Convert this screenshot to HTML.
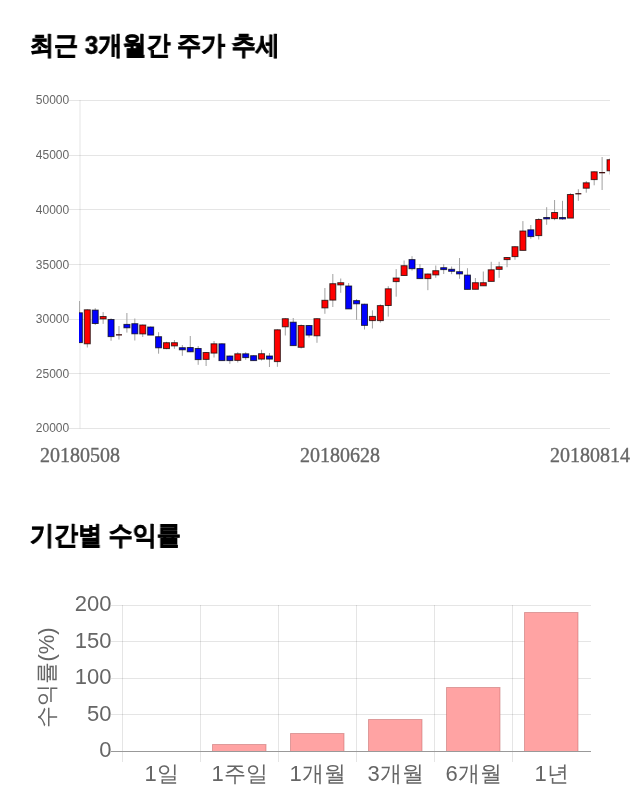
<!DOCTYPE html>
<html lang="ko">
<head>
<meta charset="utf-8">
<style>
html,body{margin:0;padding:0;background:#fff;width:640px;height:810px;overflow:hidden}
body{position:relative;font-family:"Liberation Sans",sans-serif}
.aa{will-change:transform}
.t{position:absolute;left:30.4px;font-size:26px;font-weight:bold;color:#000;white-space:nowrap;line-height:1;transform:scaleX(0.925);transform-origin:0 0;-webkit-text-stroke:0.6px #000}
svg{position:absolute;left:0;top:0}
.wk line{stroke:#a0a0a0;stroke-width:1}
rect.r{fill:#f00;stroke:rgba(0,0,0,0.7);stroke-width:1}
rect.b{fill:#00f;stroke:rgba(0,0,0,0.7);stroke-width:1}
rect.d{fill:#401010}
.yl{font-family:"Liberation Sans",sans-serif;font-size:12px;fill:#666}
.xl{font-family:"Liberation Serif",serif;font-size:20px;fill:#666;stroke:#666;stroke-width:0.35}
.bl{font-family:"Liberation Sans",sans-serif;font-size:22px;fill:#666}
.bar{fill:#ffa3a3;stroke:rgba(190,100,100,0.5);stroke-width:1}
</style>
</head>
<body>
<div class="t aa" id="t1" style="top:32px">최근 3개월간 주가 추세</div>
<svg class="aa" width="640" height="480" viewBox="0 0 640 480">
<g stroke="rgba(0,0,0,0.1)" stroke-width="1" shape-rendering="crispEdges">
<line x1="69" y1="100.5" x2="610" y2="100.5"/>
<line x1="69" y1="155.5" x2="610" y2="155.5"/>
<line x1="69" y1="209.5" x2="610" y2="209.5"/>
<line x1="69" y1="264.5" x2="610" y2="264.5"/>
<line x1="69" y1="319.5" x2="610" y2="319.5"/>
<line x1="69" y1="373.5" x2="610" y2="373.5"/>
<line x1="69" y1="428.5" x2="610" y2="428.5"/>
</g>
<line x1="80" y1="100" x2="80" y2="428.5" stroke="rgba(0,0,0,0.1)" stroke-width="1"/>
<g class="yl" text-anchor="end">
<text x="69.2" y="104">50000</text>
<text x="69.2" y="159">45000</text>
<text x="69.2" y="213.5">40000</text>
<text x="69.2" y="268.5">35000</text>
<text x="69.2" y="323">30000</text>
<text x="69.2" y="377.5">25000</text>
<text x="69.2" y="432">20000</text>
</g>
<defs><clipPath id="ca"><rect x="79" y="90" width="531" height="350"/></clipPath></defs>
<g clip-path="url(#ca)">
<g class="wk"><line x1="79.38" y1="301" x2="79.38" y2="342.5"/><line x1="87.30" y1="309.3" x2="87.30" y2="347.5"/><line x1="95.22" y1="308.2" x2="95.22" y2="325"/><line x1="103.14" y1="312.1" x2="103.14" y2="323.9"/><line x1="111.06" y1="318.3" x2="111.06" y2="340.8"/><line x1="118.98" y1="326" x2="118.98" y2="339.6"/><line x1="126.90" y1="313" x2="126.90" y2="332.6"/><line x1="134.82" y1="318.5" x2="134.82" y2="340.5"/><line x1="142.74" y1="324.5" x2="142.74" y2="337"/><line x1="150.66" y1="326.5" x2="150.66" y2="335"/><line x1="158.58" y1="332.2" x2="158.58" y2="353.7"/><line x1="166.50" y1="341.8" x2="166.50" y2="349.2"/><line x1="174.42" y1="340" x2="174.42" y2="348.8"/><line x1="182.34" y1="345" x2="182.34" y2="355.8"/><line x1="190.26" y1="336" x2="190.26" y2="352.2"/><line x1="198.18" y1="346" x2="198.18" y2="364.8"/><line x1="206.10" y1="352" x2="206.10" y2="366"/><line x1="214.02" y1="341" x2="214.02" y2="357.5"/><line x1="221.94" y1="343.3" x2="221.94" y2="360.5"/><line x1="229.86" y1="355.5" x2="229.86" y2="363.8"/><line x1="237.78" y1="352.2" x2="237.78" y2="362.5"/><line x1="245.70" y1="352.2" x2="245.70" y2="359.8"/><line x1="253.62" y1="355.2" x2="253.62" y2="360.5"/><line x1="261.54" y1="349.8" x2="261.54" y2="360.5"/><line x1="269.46" y1="353" x2="269.46" y2="367"/><line x1="277.38" y1="329.3" x2="277.38" y2="366.8"/><line x1="285.30" y1="318.2" x2="285.30" y2="335.5"/><line x1="293.22" y1="318" x2="293.22" y2="345.5"/><line x1="301.14" y1="324.5" x2="301.14" y2="348.5"/><line x1="309.06" y1="325" x2="309.06" y2="337.5"/><line x1="316.98" y1="318.2" x2="316.98" y2="342.8"/><line x1="324.90" y1="288" x2="324.90" y2="313.8"/><line x1="332.82" y1="274" x2="332.82" y2="307"/><line x1="340.74" y1="278.5" x2="340.74" y2="292.8"/><line x1="348.66" y1="283" x2="348.66" y2="308.8"/><line x1="356.58" y1="299.1" x2="356.58" y2="319.8"/><line x1="364.50" y1="303.7" x2="364.50" y2="329.5"/><line x1="372.42" y1="310.3" x2="372.42" y2="328.5"/><line x1="380.34" y1="304.4" x2="380.34" y2="322.6"/><line x1="388.26" y1="286.2" x2="388.26" y2="316.6"/><line x1="396.18" y1="269.1" x2="396.18" y2="296.7"/><line x1="404.10" y1="260.5" x2="404.10" y2="275.4"/><line x1="412.02" y1="256.2" x2="412.02" y2="270.6"/><line x1="419.94" y1="264" x2="419.94" y2="278.5"/><line x1="427.86" y1="273.5" x2="427.86" y2="290.2"/><line x1="435.78" y1="265.5" x2="435.78" y2="277.8"/><line x1="443.70" y1="264.2" x2="443.70" y2="274"/><line x1="451.62" y1="266.5" x2="451.62" y2="274.2"/><line x1="459.54" y1="258" x2="459.54" y2="278.8"/><line x1="467.46" y1="268.2" x2="467.46" y2="289.3"/><line x1="475.38" y1="278" x2="475.38" y2="289.2"/><line x1="483.30" y1="271.5" x2="483.30" y2="285.7"/><line x1="491.22" y1="261.8" x2="491.22" y2="281.3"/><line x1="499.14" y1="261.8" x2="499.14" y2="277.8"/><line x1="507.06" y1="257" x2="507.06" y2="267.2"/><line x1="514.98" y1="246.2" x2="514.98" y2="259.8"/><line x1="522.90" y1="221.1" x2="522.90" y2="250.3"/><line x1="530.82" y1="225" x2="530.82" y2="238.8"/><line x1="538.74" y1="218.2" x2="538.74" y2="239.5"/><line x1="546.66" y1="207.2" x2="546.66" y2="224.8"/><line x1="554.58" y1="200" x2="554.58" y2="220.2"/><line x1="562.50" y1="200.8" x2="562.50" y2="219.8"/><line x1="570.42" y1="193.2" x2="570.42" y2="218"/><line x1="578.34" y1="189.2" x2="578.34" y2="200.8"/><line x1="586.26" y1="181" x2="586.26" y2="192.7"/><line x1="594.18" y1="171.3" x2="594.18" y2="185.3"/><line x1="602.10" y1="157" x2="602.10" y2="190"/><line x1="610.02" y1="158.3" x2="610.02" y2="174.5"/></g><g><rect class="b" x="76.38" y="312.80" width="6" height="29.80"/><rect class="r" x="84.30" y="309.80" width="6" height="34.00"/><rect class="b" x="92.22" y="310.10" width="6" height="13.40"/><rect class="r" x="100.14" y="316.50" width="6" height="2.40"/><rect class="b" x="108.06" y="319.50" width="6" height="17.10"/><rect class="d" x="115.98" y="334.20" width="6" height="1.30"/><rect class="b" x="123.90" y="324.40" width="6" height="3.40"/><rect class="b" x="131.82" y="323.70" width="6" height="10.10"/><rect class="r" x="139.74" y="325.00" width="6" height="8.90"/><rect class="b" x="147.66" y="327.00" width="6" height="8.10"/><rect class="b" x="155.58" y="336.70" width="6" height="11.10"/><rect class="r" x="163.50" y="342.70" width="6" height="5.90"/><rect class="r" x="171.42" y="342.70" width="6" height="3.20"/><rect class="b" x="179.34" y="347.70" width="6" height="2.10"/><rect class="b" x="187.26" y="347.50" width="6" height="4.30"/><rect class="b" x="195.18" y="348.50" width="6" height="11.10"/><rect class="r" x="203.10" y="352.50" width="6" height="6.90"/><rect class="r" x="211.02" y="343.80" width="6" height="9.30"/><rect class="b" x="218.94" y="343.80" width="6" height="16.80"/><rect class="b" x="226.86" y="356.00" width="6" height="4.60"/><rect class="r" x="234.78" y="353.80" width="6" height="6.60"/><rect class="b" x="242.70" y="353.80" width="6" height="3.80"/><rect class="b" x="250.62" y="355.70" width="6" height="4.90"/><rect class="r" x="258.54" y="353.70" width="6" height="5.40"/><rect class="b" x="266.46" y="356.00" width="6" height="3.10"/><rect class="r" x="274.38" y="329.80" width="6" height="31.80"/><rect class="r" x="282.30" y="318.70" width="6" height="8.10"/><rect class="b" x="290.22" y="322.20" width="6" height="23.40"/><rect class="r" x="298.14" y="325.50" width="6" height="21.80"/><rect class="b" x="306.06" y="325.50" width="6" height="9.60"/><rect class="r" x="313.98" y="318.70" width="6" height="17.10"/><rect class="r" x="321.90" y="300.30" width="6" height="7.60"/><rect class="r" x="329.82" y="283.70" width="6" height="16.40"/><rect class="r" x="337.74" y="282.70" width="6" height="2.20"/><rect class="b" x="345.66" y="286.00" width="6" height="22.90"/><rect class="b" x="353.58" y="300.60" width="6" height="3.20"/><rect class="b" x="361.50" y="304.20" width="6" height="21.20"/><rect class="r" x="369.42" y="316.40" width="6" height="4.20"/><rect class="r" x="377.34" y="305.60" width="6" height="15.00"/><rect class="r" x="385.26" y="288.80" width="6" height="16.70"/><rect class="r" x="393.18" y="278.00" width="6" height="3.60"/><rect class="r" x="401.10" y="265.70" width="6" height="9.80"/><rect class="b" x="409.02" y="259.60" width="6" height="9.10"/><rect class="b" x="416.94" y="268.50" width="6" height="10.10"/><rect class="r" x="424.86" y="274.00" width="6" height="4.60"/><rect class="r" x="432.78" y="270.70" width="6" height="4.20"/><rect class="b" x="440.70" y="267.70" width="6" height="1.90"/><rect class="b" x="448.62" y="269.30" width="6" height="2.00"/><rect class="b" x="456.54" y="271.70" width="6" height="2.20"/><rect class="b" x="464.46" y="275.10" width="6" height="14.30"/><rect class="r" x="472.38" y="282.70" width="6" height="6.60"/><rect class="r" x="480.30" y="282.70" width="6" height="3.10"/><rect class="r" x="488.22" y="269.80" width="6" height="11.60"/><rect class="r" x="496.14" y="266.80" width="6" height="2.60"/><rect class="r" x="504.06" y="257.50" width="6" height="2.10"/><rect class="r" x="511.98" y="246.70" width="6" height="9.90"/><rect class="r" x="519.90" y="231.00" width="6" height="19.40"/><rect class="b" x="527.82" y="229.80" width="6" height="6.80"/><rect class="r" x="535.74" y="219.50" width="6" height="16.10"/><rect class="b" x="543.66" y="217.50" width="6" height="1.40"/><rect class="r" x="551.58" y="212.50" width="6" height="6.10"/><rect class="b" x="559.50" y="217.50" width="6" height="1.40"/><rect class="r" x="567.42" y="194.50" width="6" height="23.60"/><rect class="d" x="575.34" y="193.10" width="6" height="1.30"/><rect class="r" x="583.26" y="182.80" width="6" height="5.40"/><rect class="r" x="591.18" y="171.80" width="6" height="7.80"/><rect class="d" x="599.10" y="172.00" width="6" height="1.30"/><rect class="r" x="607.02" y="159.70" width="6" height="11.10"/></g>
</g>
<g class="xl" text-anchor="middle">
<text x="80" y="461.5">20180508</text>
<text x="340" y="461.5">20180628</text>
<text x="590" y="461.5">20180814</text>
</g>
</svg>
<div class="t aa" id="t2" style="top:522px">기간별 수익률</div>
<svg class="aa" width="640" height="810" viewBox="0 0 640 810">
<g stroke="rgba(0,0,0,0.1)" stroke-width="1" shape-rendering="crispEdges">
<line x1="111" y1="605.5" x2="591" y2="605.5"/>
<line x1="111" y1="641.5" x2="591" y2="641.5"/>
<line x1="111" y1="678.5" x2="591" y2="678.5"/>
<line x1="111" y1="714.5" x2="591" y2="714.5"/>
<line x1="122.5" y1="605" x2="122.5" y2="762"/>
<line x1="200.5" y1="605" x2="200.5" y2="762"/>
<line x1="278.5" y1="605" x2="278.5" y2="762"/>
<line x1="356.5" y1="605" x2="356.5" y2="762"/>
<line x1="434.5" y1="605" x2="434.5" y2="762"/>
<line x1="512.5" y1="605" x2="512.5" y2="762"/>
</g>
<g>
<rect class="bar" x="212.5" y="744.5" width="53.5" height="7"/>
<rect class="bar" x="290.5" y="733.5" width="53.5" height="18"/>
<rect class="bar" x="368.5" y="719.5" width="53.5" height="32"/>
<rect class="bar" x="446.5" y="687.5" width="53.5" height="64"/>
<rect class="bar" x="524.5" y="612.5" width="53.5" height="139"/>
</g>
<line x1="111" y1="751.5" x2="591" y2="751.5" stroke="#999" stroke-width="1" shape-rendering="crispEdges"/>
<g class="bl" text-anchor="end">
<text x="111.5" y="611.2">200</text>
<text x="111.5" y="647.7">150</text>
<text x="111.5" y="684.2">100</text>
<text x="111.5" y="720.7">50</text>
<text x="111.5" y="757.2">0</text>
</g>
<g class="bl" text-anchor="middle">
<text x="161.5" y="781">1일</text>
<text x="239.5" y="781">1주일</text>
<text x="317.5" y="781">1개월</text>
<text x="395.5" y="781">3개월</text>
<text x="473.5" y="781">6개월</text>
<text x="551.5" y="781">1년</text>
</g>
<text class="bl" text-anchor="middle" transform="translate(53.6,677.5) rotate(-90)">수익률(%)</text>
</svg>
</body>
</html>
